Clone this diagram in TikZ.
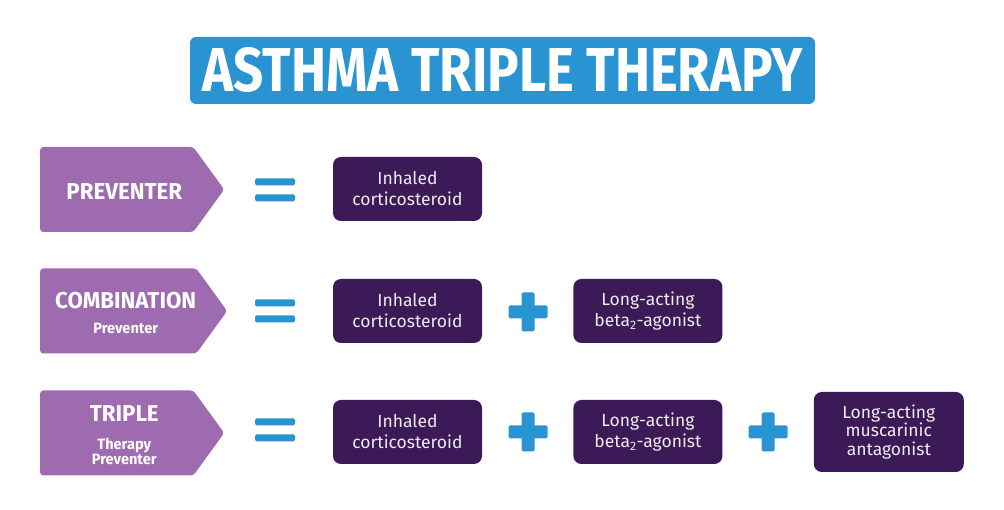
\documentclass[tikz,border=0pt]{standalone}
\usepackage{fontspec}
\setmainfont{Fira Sans}
\newfontfamily\condfont{Fira Sans}[FakeStretch=0.85]
\newfontfamily\tagfont{Fira Sans}[FakeStretch=0.97]
\usetikzlibrary{shapes.symbols,positioning}
\definecolor{titleblue}{HTML}{2A93D2}
\definecolor{tagpurple}{HTML}{9E6BB0}
\definecolor{drugdark}{HTML}{3B1A57}
\newcommand\tagmain{\tagfont\bfseries\fontsize{23}{24}\selectfont}
\newcommand\tagsub{\tagfont\bfseries\fontsize{15}{16}\selectfont}
% text of a tag, set a little right of and below the body centre
\newcommand\tagtext[1]{\hspace*{15pt}%
  \raisebox{-3.5pt}[\height][\depth]{\begin{tabular}{@{}c@{}}#1\end{tabular}}}
\tikzset{
  titlebox/.style={fill=titleblue,rounded corners=6pt,minimum width=625pt,
    minimum height=67pt,text=white,inner sep=0pt,
    font=\condfont\bfseries\fontsize{62}{62}\selectfont},
  tagbox/.style={signal,signal to=east,signal pointer angle=108,fill=tagpurple,
    text=white,minimum width=184pt,minimum height=85pt,
    rounded corners=3pt,inner sep=0pt},
  drugbox/.style={fill=drugdark,rounded corners=8pt,minimum width=149pt,
    minimum height=64pt,text=white!93!black,align=center,inner sep=0pt,
    font=\fontsize{17.5}{21}\selectfont},
  signbar/.style={fill=titleblue,rounded corners=1.5pt}
}

\begin{document}
\begin{tikzpicture}[x=1pt,y=1pt,node distance=91pt]
\useasboundingbox (0,0) rectangle (1004,510);
\node[titlebox] (title) at (502.5,439.5) {ASTHMA TRIPLE THERAPY};
% row labels
\node[tagbox,anchor=west] (prev) at (40,320.5) {\tagtext{\tagmain PREVENTER}};
\node[tagbox,anchor=west] (combo) at (40,199)
  {\tagtext{\tagmain COMBINATION\\[11pt]\tagsub Preventer}};
\node[tagbox,anchor=west] (triple) at (40,77)
  {\tagtext{\tagmain TRIPLE\\[13pt]\tagsub Therapy\\[1pt]\tagsub Preventer}};
% drugs
\node[drugbox] (prev-ics) at (407.5,321) {Inhaled\\corticosteroid};
\node[drugbox] (combo-ics) at (407.5,199) {Inhaled\\corticosteroid};
\node[drugbox,right=of combo-ics] (combo-laba) {Long-acting\\beta\textsubscript{2}-agonist};
\node[drugbox] (triple-ics) at (407.5,78) {Inhaled\\corticosteroid};
\node[drugbox,right=of triple-ics] (triple-laba) {Long-acting\\beta\textsubscript{2}-agonist};
\node[drugbox,right=of triple-laba,minimum width=150pt,minimum height=80pt,
  font=\fontsize{17.5}{18.5}\selectfont] (triple-lama) {Long-acting\\muscarinic\\antagonist};
% equals and plus signs
\foreach \y in {320,199,80} {
  \fill[signbar] (255,\y+4.5) rectangle (295,\y+11.5);
  \fill[signbar] (255,\y-11.5) rectangle (295,\y-4.5);
}
\foreach \x/\y in {528/198,528/78,768/78} {
  \fill[signbar] (\x-19.5,\y-6.5) rectangle (\x+19.5,\y+6.5);
  \fill[signbar] (\x-6.5,\y-19.5) rectangle (\x+6.5,\y+19.5);
}
\end{tikzpicture}
\end{document}
